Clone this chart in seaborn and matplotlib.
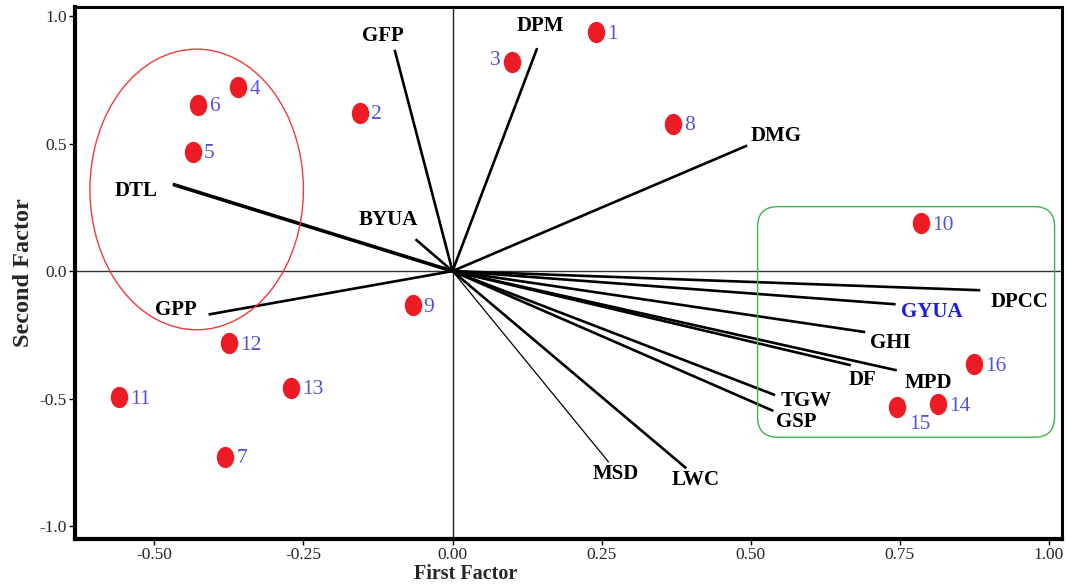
import numpy as np
import pandas as pd
import matplotlib
matplotlib.use("Agg")
import matplotlib.pyplot as plt
import seaborn as sns
from matplotlib.patches import Ellipse, FancyBboxPatch
from matplotlib.path import Path
from matplotlib.markers import MarkerStyle

# ---------------- data ----------------
genotypes = ["1", "2", "3", "4", "5", "6", "7", "8", "9", "10", "11", "12", "13", "14", "15", "16"]
geno_f1 = [0.241, -0.155, 0.100, -0.359, -0.435, -0.426, -0.381, 0.370, -0.067, 0.786,
           -0.559, -0.375, -0.270, 0.814, 0.746, 0.875]
geno_f2 = [0.937, 0.620, 0.818, 0.720, 0.468, 0.651, -0.727, 0.578, -0.134, 0.188,
           -0.494, -0.283, -0.458, -0.521, -0.534, -0.366]

traits = ["GFP", "DPM", "DMG", "DTL", "BYUA", "GPP", "DPCC", "GYUA", "GHI", "MPD",
          "DF", "TGW", "GSP", "MSD", "LWC"]
trait_f1 = [-0.097, 0.142, 0.494, -0.469, -0.062, -0.409, 0.885, 0.743, 0.692, 0.745,
            0.668, 0.541, 0.538, 0.262, 0.392]
trait_f2 = [0.867, 0.874, 0.492, 0.340, 0.125, -0.170, -0.075, -0.130, -0.239, -0.389,
            -0.369, -0.486, -0.548, -0.749, -0.773]

x_ticks = [-0.50, -0.25, 0.00, 0.25, 0.50, 0.75, 1.00]
y_ticks = [-1.0, -0.5, 0.0, 0.5, 1.0]

# ---------------- style ----------------
sns.set_style("white")
plt.rcParams["font.family"] = ["Liberation Serif", "DejaVu Serif"]
plt.rcParams["axes.unicode_minus"] = False

fig = plt.figure(figsize=(10.67, 5.85), dpi=100)
ax = fig.add_axes([0.0703, 0.0786, 0.9250, 0.9094])

RED = "#ed1c24"
NUM_BLUE = "#5252d8"

# reference lines
ax.axhline(0, color="#333333", lw=1.0, zorder=1)
ax.axvline(0, color="#222222", lw=1.0, zorder=1)

# trait vectors
thin = {"MSD": 0.9}
thick = {"DTL": 2.6}
for name, fx, fy in zip(traits, trait_f1, trait_f2):
    lw = thin.get(name, thick.get(name, 1.9))
    ax.plot([0, fx], [0, fy], color="black", lw=lw, zorder=2, solid_capstyle="butt")

label_offsets = {  # pixels (dx, dy)
    "GFP": (-12, 14), "DPM": (3, 22), "DMG": (29, 10), "DTL": (-37, -7),
    "BYUA": (-27, 19), "GPP": (-33, 4), "DPCC": (39, -12), "GYUA": (36, -8),
    "GHI": (25, -11), "MPD": (32, -13), "DF": (12, -15), "TGW": (31, -6),
    "GSP": (23, -11), "MSD": (7, -12), "LWC": (9, -12),
}
for name, fx, fy in zip(traits, trait_f1, trait_f2):
    dx, dy = label_offsets[name]
    col = "#1c1ce6" if name == "GYUA" else "black"
    ax.annotate(name, (fx, fy), xytext=(dx, dy), textcoords="offset pixels",
                ha="center", va="center", fontsize=15, fontweight="bold",
                color=col, zorder=4)

# genotype points (slightly tall ellipse marker)
circ = Path.unit_circle()
ell_path = Path(circ.vertices * np.array([0.82, 1.0]), circ.codes)
df = pd.DataFrame({"F1": geno_f1, "F2": geno_f2, "G": genotypes})
sns.scatterplot(data=df, x="F1", y="F2", marker=MarkerStyle(ell_path), s=235,
                color=RED, edgecolor=RED, linewidth=0, ax=ax, zorder=5)

num_offsets = {"3": (-12, 2, "right"), "15": (12, -17, "left")}
for g, fx, fy in zip(genotypes, geno_f1, geno_f2):
    dx, dy, ha = num_offsets.get(g, (11, -2, "left"))
    ax.annotate(g, (fx, fy), xytext=(dx, dy), textcoords="offset pixels",
                ha=ha, va="center", fontsize=15.5, color=NUM_BLUE, zorder=6)

# group outlines
ax.add_patch(Ellipse((-0.429, 0.32), 0.358, 1.10, fill=False, ec="#f03a3a", lw=1.0, zorder=3))
ax.add_patch(FancyBboxPatch((0.5116, -0.651), 0.498, 0.9037,
                            boxstyle="round,pad=0,rounding_size=0.034",
                            mutation_aspect=2.33, fill=False, ec="#3cb44b", lw=1.0, zorder=3))

# axes
ax.set_xlim(-0.633, 1.022)
ax.set_ylim(-1.05, 1.035)
ax.set_xticks(x_ticks)
ax.set_xticklabels([f"{t:.2f}" for t in x_ticks])
ax.set_yticks(y_ticks)
ax.set_yticklabels([f"{t:.1f}" for t in y_ticks])
ax.tick_params(axis="both", which="major", direction="out", length=4.5, width=1,
               labelsize=12.5, color="black", left=True, bottom=True, pad=1.5)
for side in ["left", "bottom"]:
    ax.spines[side].set_linewidth(3.0)
for side in ["top", "right"]:
    ax.spines[side].set_linewidth(2.2)
for s in ax.spines.values():
    s.set_color("black")

ax.set_xlabel("First Factor", fontsize=14.5, fontweight="bold")
ax.xaxis.set_label_coords(0.396, -0.0845, transform=ax.transAxes)
ax.xaxis.label.set_va("bottom")
ax.set_ylabel("Second Factor", fontsize=17.5, fontweight="bold", labelpad=4)

fig.savefig("out.png", dpi=100)
